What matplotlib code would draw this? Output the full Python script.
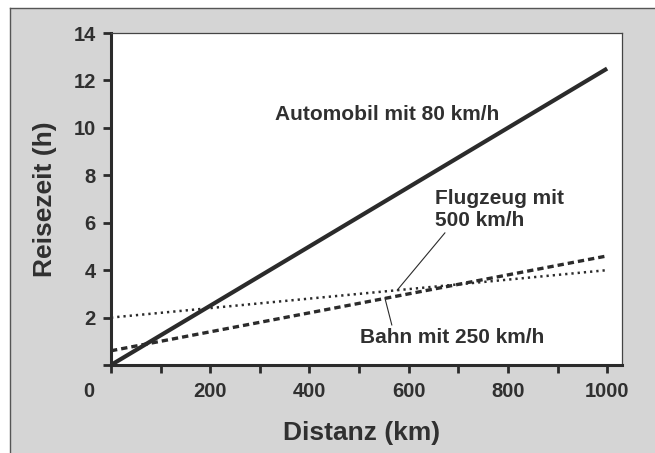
import numpy as np
import matplotlib
matplotlib.use("Agg")
import matplotlib.pyplot as plt
from matplotlib.patches import Rectangle
from matplotlib.lines import Line2D

# data (travel time vs distance)
distanz = [0, 1000]
auto_zeit = [0.0, 12.5]      # 80 km/h
flug_zeit = [2.0, 4.0]       # 500 km/h + 2 h
bahn_zeit = [0.6, 4.6]       # 250 km/h + ~0.6 h

x_ticks = [0, 100, 200, 300, 400, 500, 600, 700, 800, 900, 1000]
x_labels = ["", "", "200", "", "400", "", "600", "", "800", "", "1000"]
y_ticks = [0, 2, 4, 6, 8, 10, 12, 14]
y_labels = ["", "2", "4", "6", "8", "10", "12", "14"]

ink = "#2b2b2b"
txt = "#303030"
gray = "#d5d5d5"
plt.rcParams['font.family'] = ['Liberation Sans', 'DejaVu Sans']
plt.rcParams['font.weight'] = 'bold'

fig = plt.figure(figsize=(6.55, 4.53), dpi=100, facecolor="white")

# grey panel with dark edge on left/top
fig.add_artist(Rectangle((10/655, 0), 1.0, 1 - 8/453, transform=fig.transFigure,
                         facecolor=gray, edgecolor="none", zorder=0))
fig.add_artist(Line2D([10/655, 10/655], [0, 1 - 8/453], transform=fig.transFigure,
                      color="#555555", lw=1.0))
fig.add_artist(Line2D([10/655, 1], [1 - 8/453, 1 - 8/453], transform=fig.transFigure,
                      color="#555555", lw=1.0))

ax = fig.add_axes([111/655, 1 - 365/453, 511/655, 332/453])
ax.set_facecolor("white")

ax.plot(distanz, auto_zeit, color=ink, lw=3.0, solid_capstyle="butt")
ax.plot(distanz, flug_zeit, color=ink, lw=1.8, linestyle=(0, (0.9, 1.6)))
ax.plot(distanz, bahn_zeit, color=ink, lw=2.4, linestyle=(0, (1.9, 1.2)))

ax.set_xlim(0, 1030)
ax.set_ylim(0, 14)
ax.set_xticks(x_ticks)
ax.set_xticklabels(x_labels)
ax.set_yticks(y_ticks)
ax.set_yticklabels(y_labels)
ax.tick_params(direction="out", length=6, width=2.0, color=ink,
               labelsize=14.5, labelcolor=txt, pad=5)
ax.tick_params(axis="x", pad=6)

for s in ["left", "bottom"]:
    ax.spines[s].set_linewidth(2.2)
    ax.spines[s].set_color(ink)
for s in ["top", "right"]:
    ax.spines[s].set_linewidth(0.9)
    ax.spines[s].set_color("#444444")

# shared origin label
ax.text(-44, -1.1, "0", ha="center", va="center", fontsize=14.5,
        color=txt, fontweight="bold", clip_on=False)

ax.set_xlabel("Distanz (km)", fontsize=19, fontweight="bold", color=txt)
ax.set_ylabel("Reisezeit (h)", fontsize=19, fontweight="bold", color=txt)
ax.xaxis.set_label_coords(0.49, -0.17)
ax.yaxis.set_label_coords(-0.106, 0.5)

# annotations
ax.text(331, 10.55, "Automobil mit 80 km/h", fontsize=15, color=txt,
        fontweight="bold", ha="left", va="center")
ax.text(653, 6.56, "Flugzeug mit\n500 km/h", fontsize=15, color=txt,
        fontweight="bold", ha="left", va="center", linespacing=1.2)
ax.text(502, 1.14, "Bahn mit 250 km/h", fontsize=15, color=txt,
        fontweight="bold", ha="left", va="center")
ax.plot([673, 577], [5.57, 3.16], color=ink, lw=0.8)
ax.plot([566, 552], [1.69, 2.83], color=ink, lw=0.8)

fig.savefig("out.png", dpi=100, facecolor=fig.get_facecolor())
